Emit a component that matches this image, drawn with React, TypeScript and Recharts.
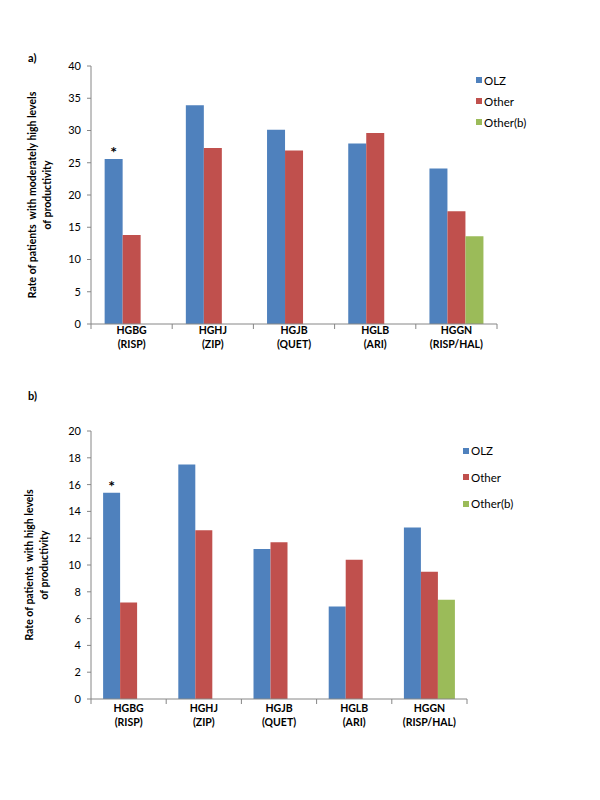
import React from "react";
import { BarChart, Bar, XAxis, YAxis, Legend, LabelList } from "recharts";

const FONT = "Lato, 'Liberation Sans', sans-serif";
const AXIS_COLOR = "#868686";

const CODES = ["HGBG", "HGHJ", "HGJB", "HGLB", "HGGN"];
const DRUGS = ["(RISP)", "(ZIP)", "(QUET)", "(ARI)", "(RISP/HAL)"];

const SERIES = [
  { key: "olz", name: "OLZ", color: "#4F81BD" },
  { key: "other", name: "Other", color: "#C0504D" },
  { key: "otherB", name: "Other(b)", color: "#9BBB59" },
];

// a) moderately high productivity
const MOD_OLZ = [25.6, 33.9, 30.1, 28.0, 24.1];
const MOD_OTHER = [13.8, 27.3, 26.9, 29.6, 17.5];
const MOD_OTHER_B = [null, null, null, null, 13.6];
const MOD_TICKS = [0, 5, 10, 15, 20, 25, 30, 35, 40];

// b) high productivity
const HIGH_OLZ = [15.4, 17.5, 11.2, 6.9, 12.8];
const HIGH_OTHER = [7.2, 12.6, 11.7, 10.4, 9.5];
const HIGH_OTHER_B = [null, null, null, null, 7.4];
const HIGH_TICKS = [0, 2, 4, 6, 8, 10, 12, 14, 16, 18, 20];

const buildRows = (olz: number[], other: number[], otherB: (number | null)[]) =>
  CODES.map((code, i) => ({ code, olz: olz[i], other: other[i], otherB: otherB[i] }));

function CategoryTick(props: any) {
  const { x, y, payload, index, bandWidth, labelDy } = props;
  const left = x - bandWidth / 2;
  return (
    <g>
      <line x1={left} x2={left} y1={y} y2={y + 5} stroke={AXIS_COLOR} />
      {index === CODES.length - 1 && (
        <line x1={x + bandWidth / 2} x2={x + bandWidth / 2} y1={y} y2={y + 5} stroke={AXIS_COLOR} />
      )}
      <text x={x} y={y + labelDy} textAnchor="middle" fontFamily={FONT} fontSize={10.5} fontWeight="bold" fill="#000">
        <tspan x={x}>{payload.value}</tspan>
        <tspan x={x} dy={13.5}>{DRUGS[index]}</tspan>
      </text>
    </g>
  );
}

function YTitle({ viewBox, lines, dx }: any) {
  const cx = dx;
  const cy = viewBox.y + viewBox.height / 2;
  return (
    <text
      transform={`rotate(-90, ${cx}, ${cy})`}
      x={cx}
      y={cy}
      textAnchor="middle"
      fontFamily={FONT}
      fontSize={10.5}
      fontWeight="bold"
      fill="#000"
      style={{ whiteSpace: "pre" }}
    >
      <tspan x={cx} dy={0}>{lines[0]}</tspan>
      <tspan x={cx} dy={14.5}>{lines[1]}</tspan>
    </text>
  );
}

function Asterisk(props: any) {
  const { x, y, width, index } = props;
  if (index !== 0) return null;
  return (
    <text x={x + width / 2} y={y - 1} textAnchor="middle" fontFamily={FONT} fontSize={16} fontWeight="bold" fill="#000">
      *
    </text>
  );
}

function LegendBox({ rowH }: { rowH: number }) {
  return (
    <div style={{ fontFamily: FONT, fontSize: 11.5, color: "#000" }}>
      {SERIES.map((s) => (
        <div key={s.key} style={{ height: rowH, display: "flex", alignItems: "center", whiteSpace: "nowrap" }}>
          <span style={{ width: 6, height: 6, background: s.color, marginRight: 2, display: "inline-block" }} />
          {s.name}
        </div>
      ))}
    </div>
  );
}

function Panel(props: any) {
  const { rows, ticks, max, margin, height, plotWidth, gap, title, labelDy, legendTop, legendLeft, rowH } = props;
  const bandWidth = plotWidth / CODES.length;
  return (
    <BarChart width={600} height={height} data={rows} margin={margin} barCategoryGap={gap} barGap={0}>
      <XAxis
        dataKey="code"
        height={40}
        interval={0}
        tickLine={false}
        tickSize={0}
        tickMargin={0}
        stroke={AXIS_COLOR}
        tick={<CategoryTick bandWidth={bandWidth} labelDy={labelDy} />}
      />
      <YAxis
        width={91}
        domain={[0, max]}
        ticks={ticks}
        interval={0}
        tickSize={4}
        tickMargin={6}
        stroke={AXIS_COLOR}
        tick={{ fill: "#000", fontFamily: FONT, fontSize: 11 }}
        label={<YTitle lines={title} dx={props.titleX} />}
      />
      <Legend
        layout="vertical"
        align="center"
        verticalAlign="middle"
        wrapperStyle={{ left: legendLeft, top: legendTop, width: "auto" }}
        content={() => <LegendBox rowH={rowH} />}
      />
      {SERIES.map((s) => (
        <Bar key={s.key} dataKey={s.key} name={s.name} fill={s.color} isAnimationActive={false}>
          {s.key === "olz" && <LabelList dataKey="olz" content={<Asterisk />} />}
        </Bar>
      ))}
    </BarChart>
  );
}

export default function App() {
  return (
    <div style={{ position: "absolute", left: 0, top: 0, width: 600, height: 800, background: "#fff" }}>
      <div style={{ position: "absolute", left: 28, top: 51, fontFamily: FONT, fontSize: 11, fontWeight: "bold" }}>a)</div>
      <div style={{ position: "absolute", left: 28, top: 389, fontFamily: FONT, fontSize: 11, fontWeight: "bold" }}>b)</div>
      <div style={{ position: "absolute", left: 0, top: 0 }}>
        <Panel
          rows={buildRows(MOD_OLZ, MOD_OTHER, MOD_OTHER_B)}
          ticks={MOD_TICKS}
          max={40}
          height={380}
          margin={{ top: 66, right: 103, bottom: 16, left: 0 }}
          plotWidth={406}
          gap="16.8%"
          title={["Rate of patients  with moderately high levels", "of productivity"]}
          titleX={36}
          labelDy={10}
          legendLeft={476}
          legendTop={69.5}
          rowH={21}
        />
      </div>
      <div style={{ position: "absolute", left: 0, top: 380 }}>
        <Panel
          rows={buildRows(HIGH_OLZ, HIGH_OTHER, HIGH_OTHER_B)}
          ticks={HIGH_TICKS}
          max={20}
          height={380}
          margin={{ top: 51, right: 133, bottom: 21, left: 0 }}
          plotWidth={376}
          gap="16.1%"
          title={["Rate of patients  with high levels", "of productivity"]}
          titleX={33}
          labelDy={13}
          legendLeft={463}
          legendTop={57.5}
          rowH={26.5}
        />
      </div>
    </div>
  );
}
